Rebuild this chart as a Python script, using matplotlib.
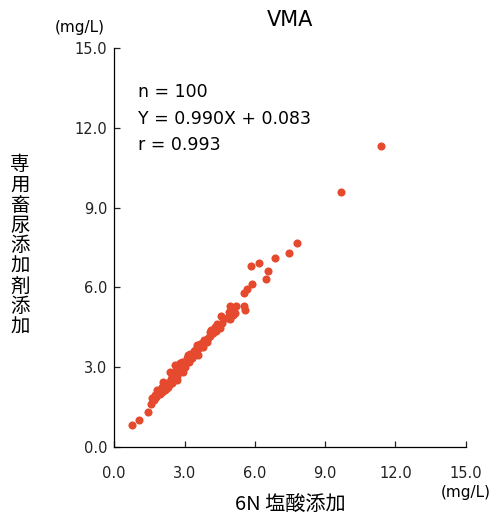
import matplotlib.pyplot as plt

# 6N HCl (x) vs dedicated urine additive (y), mg/L
x_hcl = [
    0.74, 1.07, 1.45, 1.55,
    1.62, 1.74, 1.81, 1.92, 2.02, 2.09, 2.24, 2.35, 2.38, 2.52, 2.66, 2.73,
    2.59, 2.80, 3.02, 3.09, 3.16, 3.30, 3.44, 3.59, 3.54, 3.73, 3.87, 4.01,
    4.08, 4.23, 4.30, 4.51, 4.55, 4.94, 5.01, 5.15, 4.94,
    5.54, 5.65, 5.86, 6.46, 6.55, 5.82, 6.18, 6.86, 7.46, 7.78, 9.68, 11.38,
    5.54, 5.58,
    1.68, 1.78, 1.85, 1.95, 2.00, 2.05, 2.12, 2.18, 2.25, 2.30, 2.42, 2.48,
    2.55, 2.60, 2.45,
    2.62, 2.70, 2.75, 2.85, 2.90, 2.95, 3.05, 3.12, 3.20, 3.25, 3.35, 3.40,
    3.50, 2.68, 2.88,
    3.62, 3.68, 3.78, 3.82, 3.95, 4.10, 4.15, 4.35, 4.40, 4.60, 4.80, 4.88,
    5.05, 5.20, 5.10,
]
y_additive = [
    0.82, 1.00, 1.30, 1.61,
    1.82, 1.95, 2.13, 2.07, 2.26, 2.45, 2.20, 2.32, 2.82, 2.64, 2.51, 2.76,
    3.08, 3.14, 3.01, 3.26, 3.45, 3.33, 3.64, 3.45, 3.83, 3.89, 3.95, 4.08,
    4.33, 4.27, 4.52, 4.46, 4.92, 5.30, 5.08, 5.02, 4.80,
    5.80, 5.93, 6.13, 6.31, 6.61, 6.81, 6.90, 7.09, 7.30, 7.68, 9.60, 11.30,
    5.30, 5.15,
    1.75, 1.88, 2.00, 1.98, 2.15, 2.05, 2.30, 2.12, 2.40, 2.25, 2.55, 2.38,
    2.75, 2.55, 2.70,
    2.90, 3.05, 2.85, 2.95, 3.10, 2.80, 3.15, 3.35, 3.20, 3.50, 3.40, 3.60,
    3.55, 2.65, 3.20,
    3.70, 3.85, 3.75, 4.00, 3.92, 4.15, 4.40, 4.35, 4.60, 4.65, 4.85, 5.05,
    4.95, 5.30, 5.20,
]
ticks = [0.0, 3.0, 6.0, 9.0, 12.0, 15.0]
tick_labels = ['0.0', '3.0', '6.0', '9.0', '12.0', '15.0']
stats_lines = ['n = 100', 'Y = 0.990X + 0.083', 'r = 0.993']

plt.rcParams['font.family'] = ['DejaVu Sans', 'Noto Sans CJK JP']
jp = ['Noto Sans CJK JP', 'DejaVu Sans']

fig = plt.figure(figsize=(5.03, 5.23), dpi=100)
ax = fig.add_axes([0.227, 0.146, 0.699, 0.762])

ax.scatter(x_hcl, y_additive, s=34, color='#e64a2e', linewidths=0, zorder=3)

ax.set_xlim(0, 15)
ax.set_ylim(0, 15)
ax.set_xticks(ticks)
ax.set_yticks(ticks)
ax.set_xticklabels(tick_labels)
ax.set_yticklabels(tick_labels)
ax.spines['top'].set_visible(False)
ax.spines['right'].set_visible(False)
for sp in ('left', 'bottom'):
    ax.spines[sp].set_linewidth(0.9)
ax.tick_params(axis='both', direction='in', length=4, width=0.9,
               labelsize=10.5, colors='#222222')
ax.tick_params(axis='x', pad=14)
ax.tick_params(axis='y', pad=5)

ax.set_title('VMA', fontsize=15, pad=16)

for i, line in enumerate(stats_lines):
    ax.text(1.0, 13.35 - i * 1.0, line, fontsize=12.5, va='center', ha='left')

fig.text(0.040, 0.530, '\n'.join('専用畜尿添加剤添加'), family=jp, fontsize=14,
         ha='center', va='center', linespacing=0.96)
fig.text(0.577, 0.034, '6N 塩酸添加', family=jp, fontsize=14.5,
         ha='center', va='center')
fig.text(0.159, 0.948, '(mg/L)', fontsize=11, ha='center', va='center')
fig.text(0.925, 0.059, '(mg/L)', fontsize=11, ha='center', va='center')

fig.savefig('out.png', dpi=100, facecolor='white')
